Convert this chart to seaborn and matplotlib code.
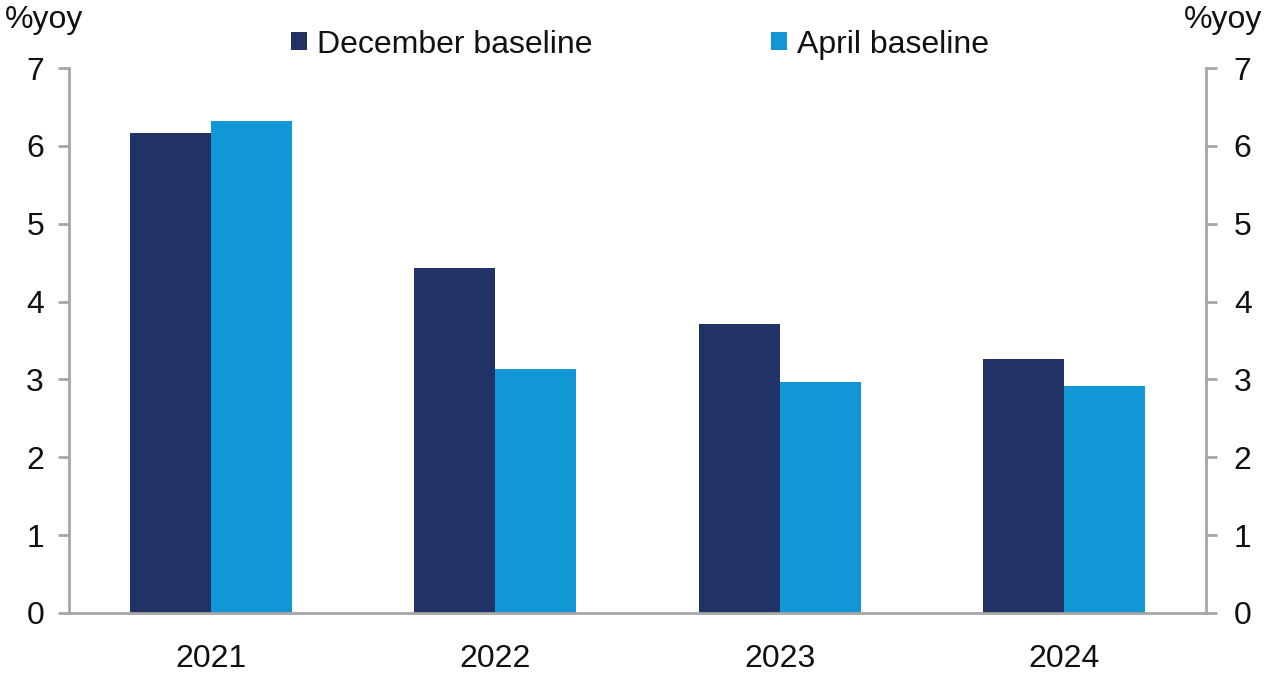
import matplotlib
matplotlib.use("Agg")
import matplotlib.pyplot as plt
import seaborn as sns
import pandas as pd

years = ["2021", "2022", "2023", "2024"]
december = [6.16, 4.43, 3.71, 3.26]
april = [6.32, 3.13, 2.97, 2.92]
series_names = ["December baseline", "April baseline"]
colors = ["#213366", "#1197d5"]
yticks = [0, 1, 2, 3, 4, 5, 6, 7]

df = pd.DataFrame({
    "year": years * 2,
    "value": december + april,
    "series": [series_names[0]] * len(years) + [series_names[1]] * len(years),
})

sns.set_theme(style="white")
plt.rcParams["font.family"] = ["Liberation Sans", "DejaVu Sans"]
plt.rcParams["text.color"] = "#111111"
plt.rcParams["xtick.color"] = "#111111"
plt.rcParams["ytick.color"] = "#111111"

FS = 23

fig, ax = plt.subplots(figsize=(12.8, 6.84), dpi=100)
fig.subplots_adjust(left=69/1280, right=1206/1280, top=1-68/684, bottom=1-613/684)

sns.barplot(data=df, x="year", y="value", hue="series", palette=colors,
            width=0.57, saturation=1, ax=ax, legend=True, linewidth=0)

spine_col = "#a6a6a6"
ax.set_xlim(-0.5, len(years) - 0.5)
ax.set_ylim(0, 7)
ax.set_yticks(yticks)
ax.set_yticklabels([str(t) for t in yticks], fontsize=FS)
ax.set_xlabel("")
ax.set_ylabel("")
for s in ["left", "right", "bottom"]:
    ax.spines[s].set_visible(True)
    ax.spines[s].set_color(spine_col)
    ax.spines[s].set_linewidth(2)
ax.spines["top"].set_visible(False)

ax.set_xticks(range(len(years)))
ax.set_xticklabels(years, fontsize=FS)
ax.tick_params(axis="x", which="major", length=0, pad=22)
ax.set_xticks([i - 0.5 for i in range(len(years) + 1)], minor=True)
ax.tick_params(axis="x", which="minor", length=8, width=2, color=spine_col, direction="out")
ax.tick_params(axis="y", length=8, width=2, color=spine_col, direction="out", pad=10)

ax2 = ax.twinx()
ax2.set_ylim(0, 7)
ax2.set_yticks(yticks)
ax2.set_yticklabels([str(t) for t in yticks], fontsize=FS)
ax2.tick_params(axis="y", length=8, width=2, color=spine_col, direction="out", pad=12)
for s in ["left", "right", "bottom", "top"]:
    ax2.spines[s].set_visible(False)
ax2.grid(False)

fig.text(5/1280, 1-20/684, "%yoy", fontsize=FS, ha="left", va="center")
fig.text(1262/1280, 1-20/684, "%yoy", fontsize=FS, ha="right", va="center")

handles, labels = ax.get_legend_handles_labels()
ax.legend(handles, labels, loc="center", bbox_to_anchor=(0.502, 1.043),
          ncol=2, frameon=False, fontsize=FS, handlelength=0.5, handleheight=0.5,
          handletextpad=0.3, columnspacing=5.6, borderaxespad=0, borderpad=0)

fig.savefig("out.png", dpi=100)
